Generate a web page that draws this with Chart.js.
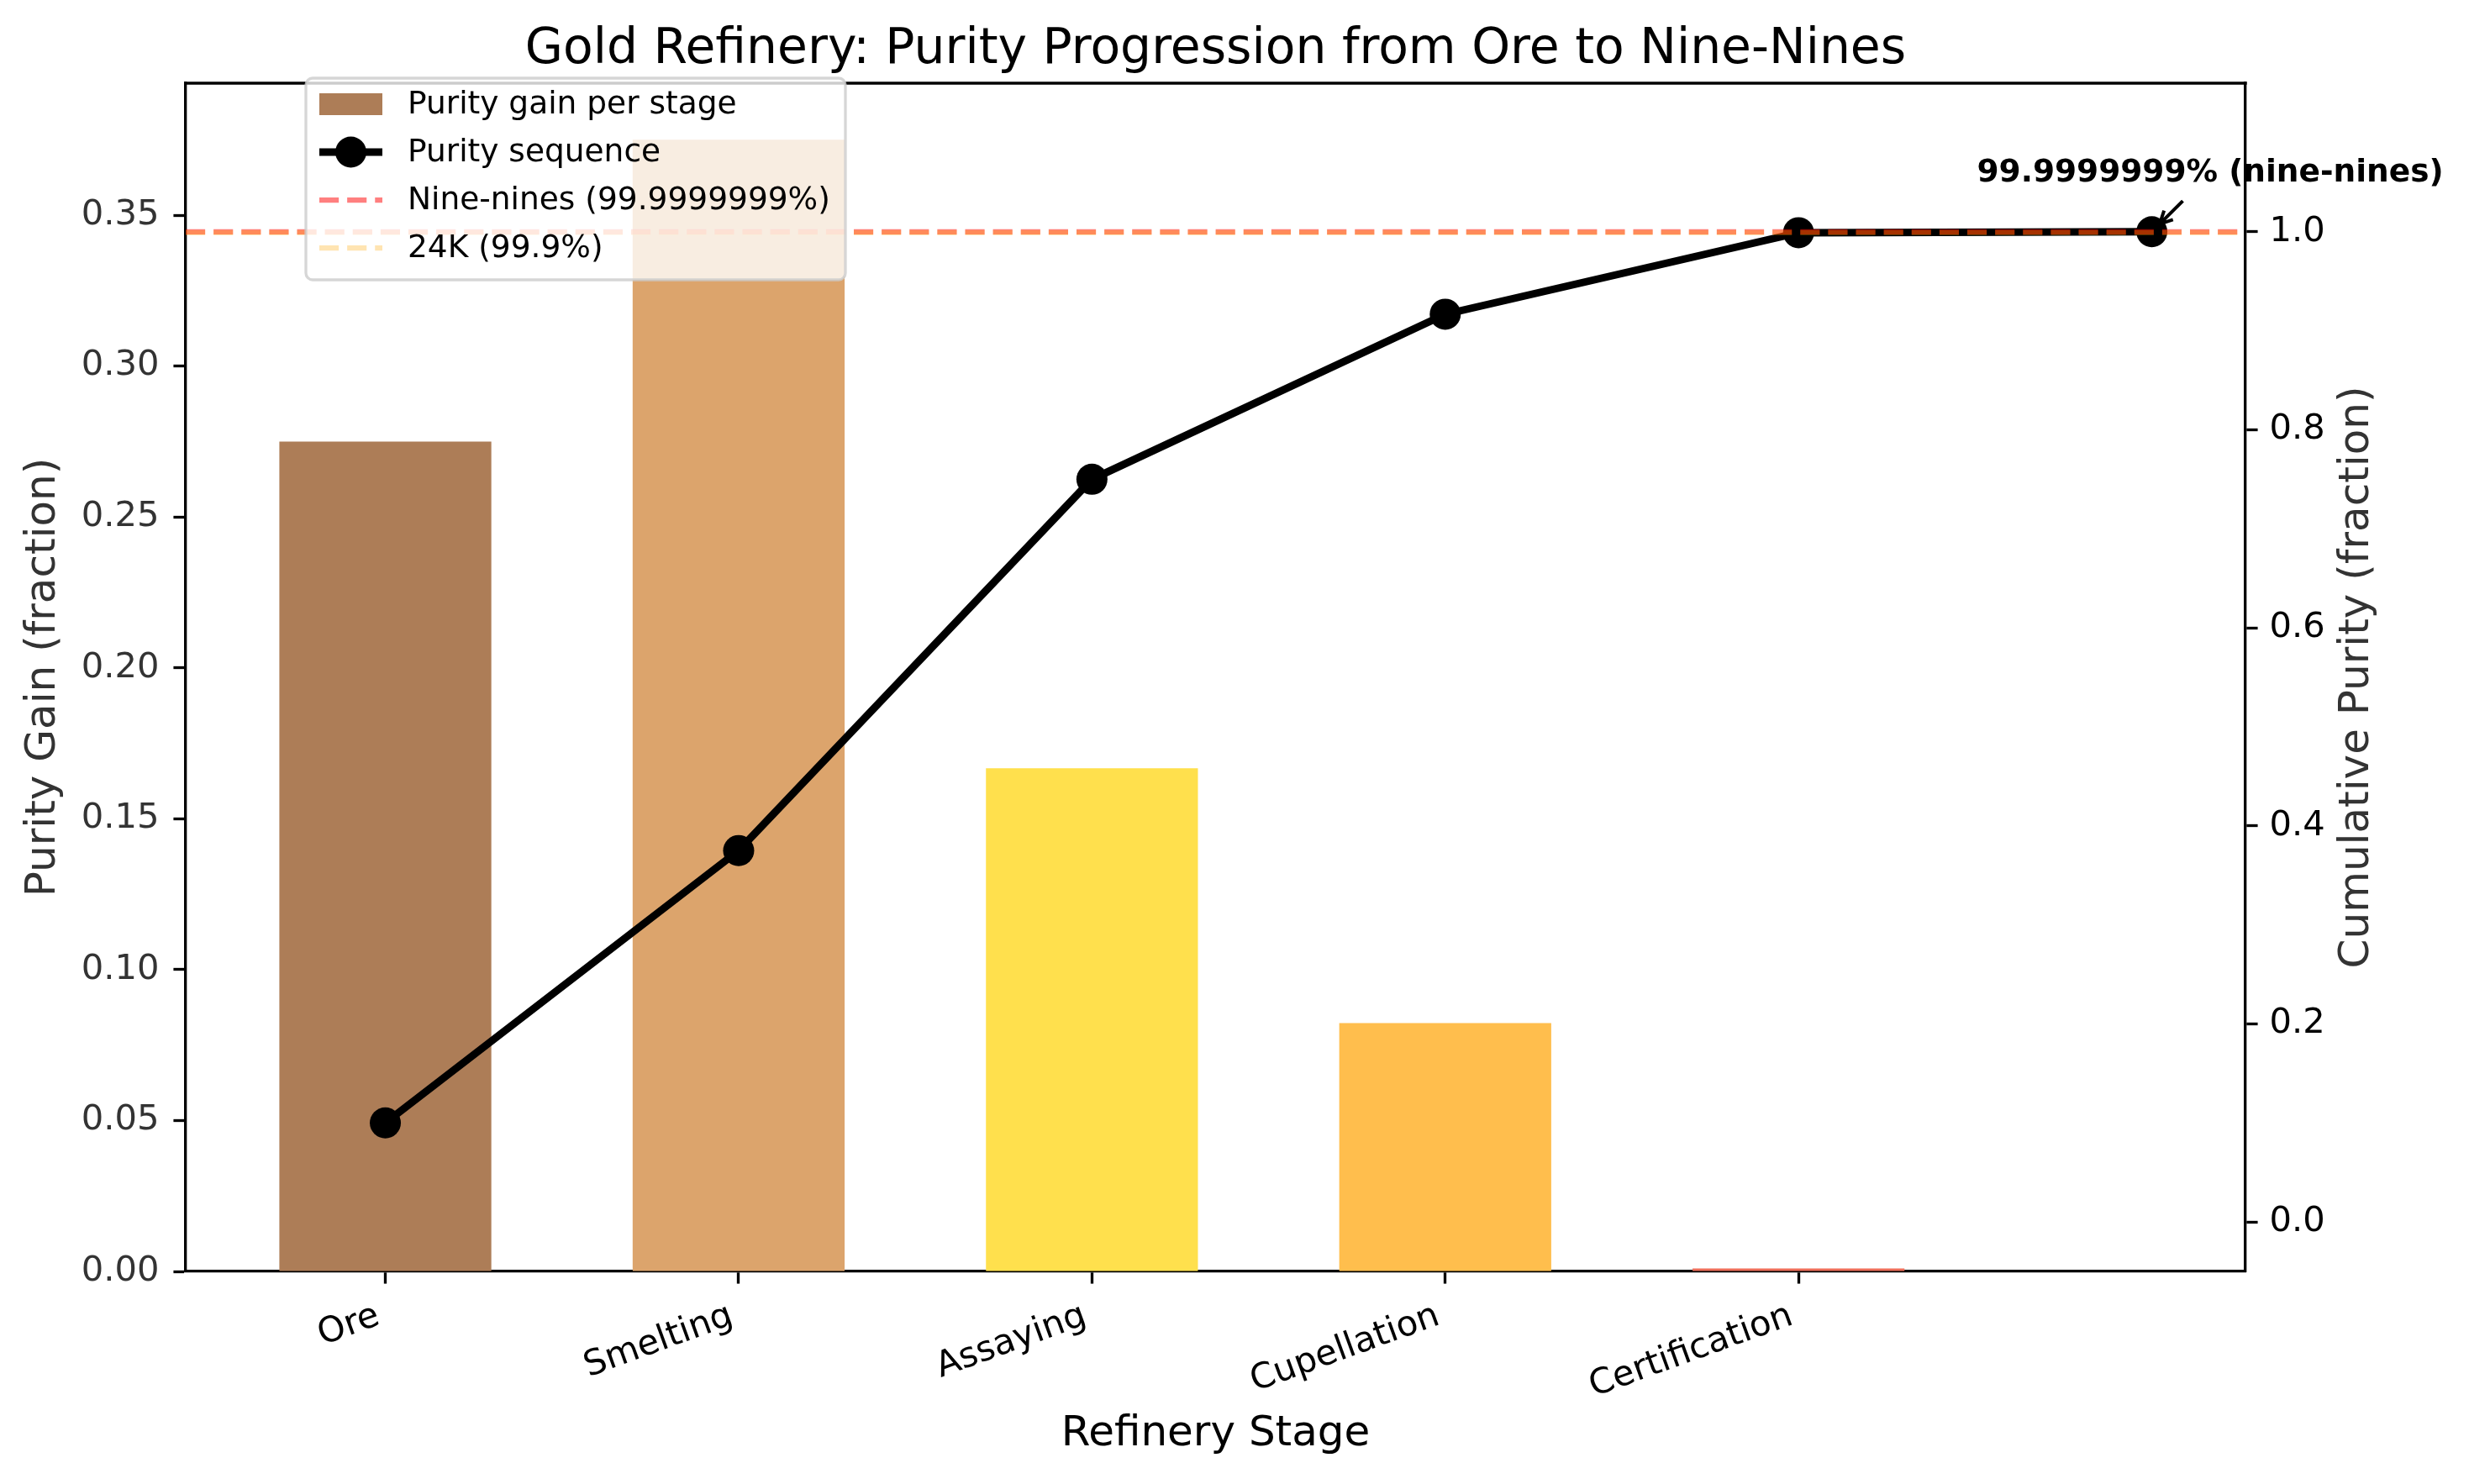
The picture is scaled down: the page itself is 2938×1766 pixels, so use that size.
<!DOCTYPE html>
<html>
<head>
<meta charset="utf-8">
<script src="https://cdn.jsdelivr.net/npm/chart.js@4.4.1/dist/chart.umd.min.js"></script>
<style>
  html, body { margin: 0; padding: 0; background: #ffffff; }
  #wrap { width: 2938px; height: 1766px; position: relative; }
  canvas { display: block; }
</style>
</head>
<body>
<div id="wrap"><canvas id="c" width="2938" height="1766" style="width:2938px;height:1766px"></canvas></div>
<script>
// ---------------- data ----------------
const stages = ['Ore', 'Smelting', 'Assaying', 'Cupellation', 'Certification'];
const purityGain = [0.275, 0.375, 0.1667, 0.0823, 0.0009999];
const puritySeq = [0.10, 0.375, 0.75, 0.9167, 0.999, 0.9999999];
const barColors = ['#ad7d57', '#dca46c', '#ffe04d', '#ffbe4d', '#ee6e5a'];
const leftTicks = [0, 0.05, 0.10, 0.15, 0.20, 0.25, 0.30, 0.35];
const rightTicks = [0.0, 0.2, 0.4, 0.6, 0.8, 1.0];
const NINE_NINES = 0.9999999;
const K24 = 0.999;
const refLines = [
  { label: 'Nine-nines (99.9999999%)', value: NINE_NINES, color: 'rgba(255,0,0,0.5)' },
  { label: '24K (99.9%)', value: K24, color: 'rgba(255,165,0,0.3)' }
];
const titleText = 'Gold Refinery: Purity Progression from Ore to Nine-Nines';
const xLabel = 'Refinery Stage';
const yLabel = 'Purity Gain (fraction)';
const y1Label = 'Cumulative Purity (fraction)';
const annText = '99.9999999% (nine-nines)';

// ---------------- styling ----------------
const FONT = "'DejaVu Sans'";
const PT = 300 / 72;
const TICK_FS = 10 * PT;
const LEG_FS = 9 * PT;
const LAB_FS = 12 * PT;
const TITLE_FS = 14 * PT;
const SPINE_W = 0.8 * PT;
const TICK_LEN = 3.5 * PT;
const yMax = 0.375 * 1.05;

Chart.defaults.font.family = FONT;

function drawDashed(ctx, x0, x1, y, color, lw) {
  ctx.save();
  ctx.strokeStyle = color;
  ctx.lineWidth = lw;
  ctx.lineCap = 'butt';
  ctx.setLineDash([3.7 * lw, 1.6 * lw]);
  ctx.beginPath();
  ctx.moveTo(x0, y);
  ctx.lineTo(x1, y);
  ctx.stroke();
  ctx.restore();
}

const custom = {
  id: 'custom',
  afterDatasetsDraw(chart) {
    const { ctx, chartArea: a, scales } = chart;
    ctx.save();
    ctx.beginPath();
    ctx.rect(a.left, a.top, a.right - a.left, a.bottom - a.top);
    ctx.clip();
    refLines.forEach(r => {
      const y = scales.y1.getPixelForValue(r.value);
      drawDashed(ctx, a.left, a.right, y, r.color, 1.5 * PT);
    });
    ctx.restore();
    // top spine
    ctx.save();
    ctx.strokeStyle = '#000';
    ctx.lineWidth = SPINE_W;
    ctx.beginPath();
    ctx.moveTo(a.left - SPINE_W / 2, a.top);
    ctx.lineTo(a.right + SPINE_W / 2, a.top);
    ctx.stroke();
    ctx.restore();
  },
  afterDraw(chart) {
    const { ctx, chartArea: a, scales } = chart;
    const xs = scales.x;
    // x tick labels (rotated 20deg, right aligned like matplotlib)
    const th = 20 * Math.PI / 180;
    ctx.save();
    ctx.fillStyle = '#000';
    ctx.font = TICK_FS + 'px ' + FONT;
    const y0 = a.bottom + TICK_LEN + 3.5 * PT;
    stages.forEach((lab, i) => {
      const x = xs.getPixelForValue(i);
      const w = ctx.measureText(lab).width;
      const h = TICK_FS * 1.164;
      const W = w * Math.cos(th) + h * Math.sin(th);
      const H = w * Math.sin(th) + h * Math.cos(th);
      ctx.save();
      ctx.translate(x - W / 2, y0 + H / 2);
      ctx.rotate(-th);
      ctx.textAlign = 'center';
      ctx.textBaseline = 'middle';
      ctx.fillText(lab, 0, 0);
      ctx.restore();
    });
    ctx.restore();

    // axis titles
    ctx.save();
    ctx.font = LAB_FS + 'px ' + FONT;
    ctx.textAlign = 'center';
    ctx.textBaseline = 'middle';
    ctx.fillStyle = '#000';
    ctx.fillText(xLabel, (a.left + a.right) / 2, 1707);
    const cy = (a.top + a.bottom) / 2;
    ctx.fillStyle = '#333333';
    ctx.save();
    ctx.translate(52, cy);
    ctx.rotate(-Math.PI / 2);
    ctx.fillText(yLabel, 0, 0);
    ctx.restore();
    ctx.save();
    ctx.translate(2805, cy);
    ctx.rotate(-Math.PI / 2);
    ctx.fillText(y1Label, 0, 0);
    ctx.restore();
    // title
    ctx.fillStyle = '#000';
    ctx.font = TITLE_FS + 'px ' + FONT;
    ctx.textBaseline = 'alphabetic';
    ctx.fillText(titleText, (a.left + a.right) / 2, 75);
    ctx.restore();

    // legend
    ctx.save();
    const L = { x: 364, y: 93, w: 642, h: 240, r: 8 };
    ctx.beginPath();
    ctx.roundRect(L.x, L.y, L.w, L.h, L.r);
    ctx.fillStyle = 'rgba(255,255,255,0.8)';
    ctx.fill();
    ctx.lineWidth = 3.3;
    ctx.strokeStyle = 'rgba(204,204,204,0.8)';
    ctx.stroke();
    const hx0 = 380, hx1 = 455, tx = 485;
    const rows = [124, 181, 238, 295];
    // bar patch
    ctx.fillStyle = barColors[0];
    ctx.fillRect(hx0, rows[0] - 13, hx1 - hx0, 26);
    // line + marker
    ctx.strokeStyle = '#000';
    ctx.lineWidth = 9;
    ctx.beginPath();
    ctx.moveTo(hx0, rows[1]);
    ctx.lineTo(hx1, rows[1]);
    ctx.stroke();
    ctx.fillStyle = '#000';
    ctx.beginPath();
    ctx.arc((hx0 + hx1) / 2, rows[1], 18.5, 0, Math.PI * 2);
    ctx.fill();
    // ref lines
    drawDashed(ctx, hx0, hx1, rows[2], refLines[0].color, 1.5 * PT);
    drawDashed(ctx, hx0, hx1, rows[3], refLines[1].color, 1.5 * PT);
    ctx.fillStyle = '#000';
    ctx.font = LEG_FS + 'px ' + FONT;
    ctx.textAlign = 'left';
    ctx.textBaseline = 'middle';
    const legLabels = ['Purity gain per stage', 'Purity sequence', refLines[0].label, refLines[1].label];
    legLabels.forEach((t, i) => ctx.fillText(t, tx, rows[i] + 1));
    ctx.restore();

    // annotation
    const px = xs.getPixelForValue(puritySeq.length - 1);
    const py = scales.y1.getPixelForValue(puritySeq[puritySeq.length - 1]);
    const cx = px + 69.5, cyy = py - 69;
    ctx.save();
    ctx.font = 'bold ' + LEG_FS + 'px ' + FONT;
    ctx.textAlign = 'center';
    ctx.textBaseline = 'alphabetic';
    ctx.fillStyle = '#000';
    ctx.fillText(annText, cx, cyy + 9);
    const dx = px - cx, dy = py - cyy;
    const d = Math.hypot(dx, dy);
    const ux = dx / d, uy = dy / d;
    const sx = cx + ux * 46, sy = cyy + uy * 46;
    const ex = px - ux * 13, ey = py - uy * 13;
    ctx.strokeStyle = '#000';
    ctx.lineWidth = 4;
    ctx.beginPath();
    ctx.moveTo(sx, sy);
    ctx.lineTo(ex, ey);
    const hl = 15, hw = 7.5;
    ctx.moveTo(ex - ux * hl - uy * hw, ey - uy * hl + ux * hw);
    ctx.lineTo(ex, ey);
    ctx.lineTo(ex - ux * hl + uy * hw, ey - uy * hl - ux * hw);
    ctx.stroke();
    ctx.restore();
  }
};

const axisGrid = { display: true, drawOnChartArea: false, drawTicks: true, tickLength: TICK_LEN, tickWidth: SPINE_W, tickColor: '#000', offset: false };
const axisBorder = { display: true, color: '#000', width: SPINE_W };

new Chart(document.getElementById('c').getContext('2d'), {
  type: 'bar',
  data: {
    datasets: [
      {
        type: 'bar',
        label: 'Purity gain per stage',
        data: stages.map((s, i) => ({ x: i, y: purityGain[i] })),
        backgroundColor: barColors,
        borderWidth: 0,
        barPercentage: 0.6,
        categoryPercentage: 1.0,
        xAxisID: 'x',
        yAxisID: 'y',
        order: 2
      },
      {
        type: 'line',
        label: 'Purity sequence',
        data: puritySeq.map((v, i) => ({ x: i, y: v })),
        borderColor: '#000',
        borderWidth: 9,
        pointRadius: 18.5,
        pointBackgroundColor: '#000',
        pointBorderWidth: 0,
        pointHoverRadius: 18.5,
        tension: 0,
        fill: false,
        xAxisID: 'x',
        yAxisID: 'y1',
        order: 1
      }
    ]
  },
  options: {
    responsive: false,
    animation: false,
    devicePixelRatio: 1,
    events: [],
    layout: { padding: { top: 99, left: 0, right: 0, bottom: 0 } },
    plugins: { legend: { display: false }, title: { display: false }, tooltip: { enabled: false } },
    scales: {
      x: {
        type: 'linear', position: 'bottom', min: -0.565, max: 5.265, offset: false,
        grid: axisGrid, border: axisBorder,
        ticks: { display: false },
        afterBuildTicks: s => { s.ticks = stages.map((_, i) => ({ value: i })); },
        afterFit: s => { s.height = 253; }
      },
      y: {
        type: 'linear', position: 'left', min: 0, max: yMax,
        grid: axisGrid, border: axisBorder,
        ticks: { color: '#333333', font: { size: TICK_FS }, padding: 17, callback: v => Number(v).toFixed(2) },
        afterBuildTicks: s => { s.ticks = leftTicks.map(v => ({ value: v })); },
        afterFit: s => { s.width = 221; }
      },
      y1: {
        type: 'linear', position: 'right', min: -0.05, max: 1.15,
        grid: axisGrid, border: axisBorder,
        ticks: { color: '#000', font: { size: TICK_FS }, padding: 14, callback: v => Number(v).toFixed(1) },
        afterBuildTicks: s => { s.ticks = rightTicks.map(v => ({ value: v })); },
        afterFit: s => { s.width = 266; }
      }
    }
  },
  plugins: [custom]
});
</script>
</body>
</html>
